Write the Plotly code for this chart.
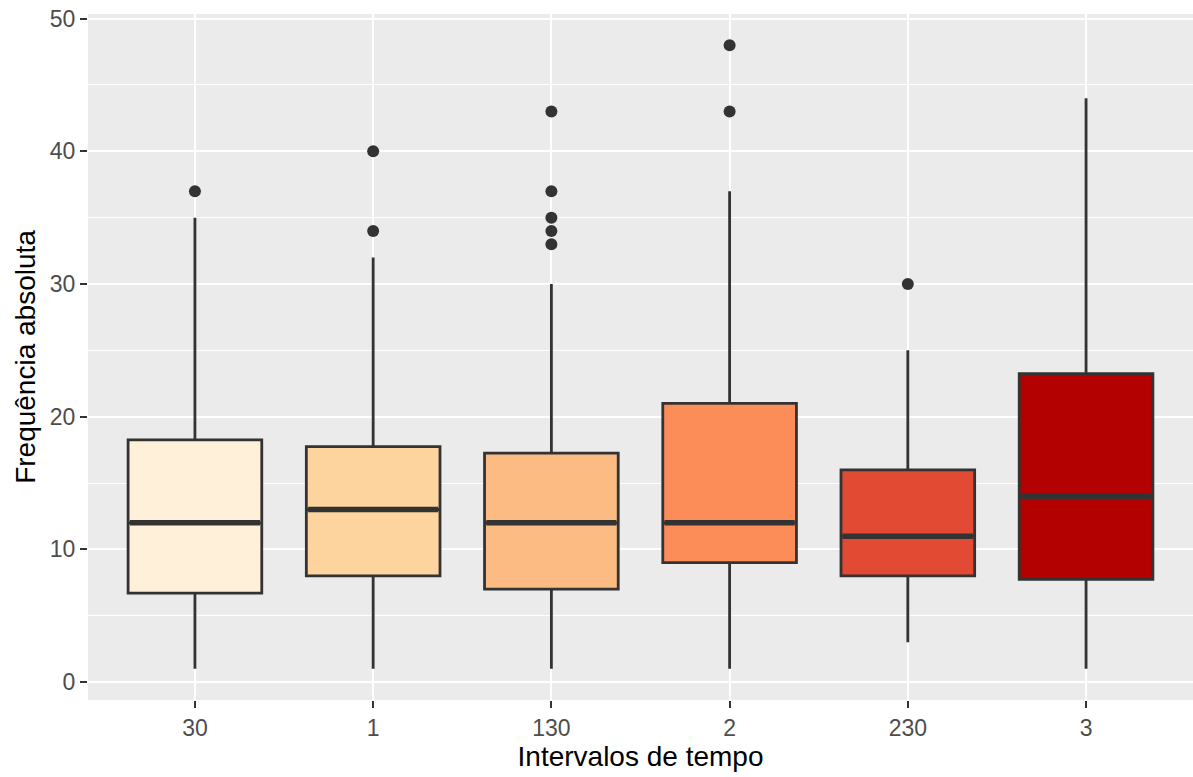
import plotly.graph_objects as go

categories = ["30", "1", "130", "2", "230", "3"]
q1 = [6.7, 8, 7, 9, 8, 7.75]
median = [12, 13, 12, 12, 11, 14]
q3 = [18.25, 17.75, 17.25, 21, 16, 23.25]
lower_whisker = [1, 1, 1, 1, 3, 1]
upper_whisker = [35, 32, 30, 37, 25, 44]
outliers = [[37], [40, 34], [43, 37, 35, 34, 33], [48, 43], [30], []]
fill_colors = ["#FEF0D9", "#FDD49E", "#FDBB84", "#FC8D59", "#E34A33", "#B30000"]

positions = list(range(1, len(categories) + 1))
box_width = 0.75
edge = "#333333"

fig = go.Figure()
for i, cat in enumerate(categories):
    fig.add_trace(go.Box(
        x=[positions[i]], q1=[q1[i]], median=[median[i]], q3=[q3[i]],
        lowerfence=[lower_whisker[i]], upperfence=[upper_whisker[i]],
        width=box_width, whiskerwidth=0, fillcolor=fill_colors[i],
        line=dict(color=edge, width=2.8), boxpoints=False, name=cat,
        hoverinfo="skip",
    ))
    # thicker median line (ggplot fatten)
    fig.add_trace(go.Scatter(
        x=[positions[i] - box_width / 2 + 0.01, positions[i] + box_width / 2 - 0.01],
        y=[median[i], median[i]], mode="lines",
        line=dict(color=edge, width=5.5), hoverinfo="skip",
    ))
    if outliers[i]:
        fig.add_trace(go.Scatter(
            x=[positions[i]] * len(outliers[i]), y=outliers[i], mode="markers",
            marker=dict(color=edge, size=12), hoverinfo="skip",
        ))

axis_font = dict(family="Liberation Sans, Arial, sans-serif", size=23, color="#4D4D4D")
title_font = dict(family="Liberation Sans, Arial, sans-serif", size=28, color="black")

fig.update_layout(
    width=1193, height=777,
    margin=dict(l=88, r=0, t=14, b=77),
    paper_bgcolor="white", plot_bgcolor="#EBEBEB",
    showlegend=False,
    xaxis=dict(
        range=[0.4, 6.6], tickvals=positions, ticktext=categories,
        showgrid=True, gridcolor="white", gridwidth=2.4, zeroline=False,
        ticks="outside", ticklen=7, tickwidth=2.2, tickcolor="#333333",
        tickfont=axis_font,
        title=dict(text="Intervalos de tempo", font=title_font, standoff=6),
    ),
    yaxis=dict(
        range=[-1.35, 50.35], tickvals=[0, 10, 20, 30, 40, 50],
        showgrid=True, gridcolor="white", gridwidth=2.4, zeroline=False,
        minor=dict(tickvals=[5, 15, 25, 35, 45], showgrid=True, gridcolor="white", gridwidth=1.2),
        ticks="outside", ticklen=7, tickwidth=2.2, tickcolor="#333333",
        tickfont=axis_font,
        title=dict(text="Frequência absoluta", font=title_font, standoff=6),
    ),
)

fig.write_html("out.html")
